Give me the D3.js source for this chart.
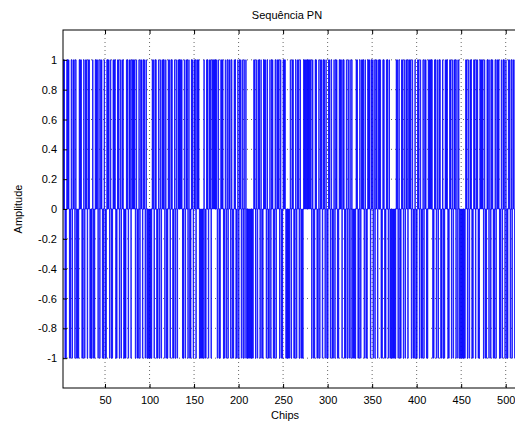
<!DOCTYPE html>
<html>
<head>
<meta charset="utf-8">
<script src="https://cdn.jsdelivr.net/npm/d3@7"></script>
<style>
  body { margin: 0; background: #fff; }
  svg { display: block; }
  text { font-family: "Liberation Sans", Arial, sans-serif; fill: #000; }
</style>
</head>
<body>
<svg id="chart" width="515" height="425"></svg>
<script>
// PN sequence chips (1 = +1, 0 = -1), 511 chips
const chipRows = [
  "10110011100101101000111001011011000100111010110010",
  "01110100111001101011000110110111101001011011010000",
  "00110110010101110100110110010101111100101101001101",
  "10111000001001101101111110100111001010110100110010",
  "11010101000000001101011010011101001011001011101001",
  "11000001011001011010001111111110100110010110110100",
  "11010010110011101100101010100001100101110100111011",
  "01011011100110011010000000110100110101101110100100",
  "11010010110011111001101011001001110011010110101000",
  "00001101011001101100111101001101011001011100101101",
  "00110101101"
];
const chipValues = chipRows.join("").split("").map(c => c === "1" ? 1 : -1);
const chipIndex = chipValues.map((_, i) => i + 1);

const xTicks = [50, 100, 150, 200, 250, 300, 350, 400, 450, 500];
const yTicks = [-1, -0.8, -0.6, -0.4, -0.2, 0, 0.2, 0.4, 0.6, 0.8, 1];
const yTickLabels = ["-1", "-0.8", "-0.6", "-0.4", "-0.2", "0", "0.2", "0.4", "0.6", "0.8", "1"];

const titleText = "Sequência PN";
const xLabelText = "Chips";
const yLabelText = "Amplitude";

(function () {
const svg = d3.select("#chart");
const pL = 63, pT = 30, pB = 388;
const x = d3.scaleLinear().domain([2.8, 511.6]).range([pL, pL + (511.6 - 2.8) * 0.8904]);
const y = d3.scaleLinear().domain([-1.2, 1.2]).range([pB, pT]);
const pR = x(511.6);

svg.append("clipPath").attr("id", "clip").append("rect")
  .attr("x", pL).attr("y", pT).attr("width", pR - pL).attr("height", pB - pT);

// grid
const grid = svg.append("g");
xTicks.forEach(t => grid.append("line")
  .attr("x1", x(t)).attr("x2", x(t)).attr("y1", pT).attr("y2", pB)
  .attr("stroke", "#000").attr("stroke-width", 0.6).attr("stroke-dasharray", "1,3"));
yTicks.forEach(t => grid.append("line")
  .attr("x1", pL).attr("x2", pR).attr("y1", y(t)).attr("y2", y(t))
  .attr("stroke", "#000").attr("stroke-width", 0.6).attr("stroke-dasharray", "1,3"));

// signal (return-to-zero pulses)
const pts = [];
chipValues.forEach((v, i) => {
  pts.push([chipIndex[i], v]);
  pts.push([chipIndex[i] + 0.5, 0]);
});
const line = d3.line().x(d => x(d[0])).y(d => y(d[1])).curve(d3.curveStepAfter);
svg.append("path").datum(pts)
  .attr("clip-path", "url(#clip)")
  .attr("d", line)
  .attr("fill", "none")
  .attr("stroke", "#0000ff")
  .attr("stroke-width", 0.8);

// axes (ticks inward)
const gx = svg.append("g").attr("transform", `translate(0,${pB})`)
  .call(d3.axisBottom(x).tickValues(xTicks).tickSizeInner(-4).tickSizeOuter(0).tickPadding(8));
const gxt = svg.append("g").attr("transform", `translate(0,${pT})`)
  .call(d3.axisTop(x).tickValues(xTicks).tickSizeInner(-4).tickSizeOuter(0).tickFormat(""));
const gy = svg.append("g").attr("transform", `translate(${pL},0)`)
  .call(d3.axisLeft(y).tickValues(yTicks).tickSizeInner(-4).tickSizeOuter(0).tickPadding(6)
    .tickFormat((d, i) => yTickLabels[i]));
[gx, gxt, gy].forEach(g => {
  g.select(".domain").remove();
  g.selectAll("line").attr("stroke", "#000");
  g.selectAll("text").style("font-family", "'Liberation Sans', Arial, sans-serif").style("font-size", "11px");
});

// frame
svg.append("rect").attr("x", pL).attr("y", pT).attr("width", pR - pL).attr("height", pB - pT)
  .attr("fill", "none").attr("stroke", "#000").attr("stroke-width", 1);

// labels
svg.append("text").attr("x", 287).attr("y", 19).attr("text-anchor", "middle")
  .style("font-size", "11px").text(titleText);
svg.append("text").attr("x", 285).attr("y", 419).attr("text-anchor", "middle")
  .style("font-size", "11px").text(xLabelText);
svg.append("text").attr("transform", `translate(22,${y(0)}) rotate(-90)`).attr("text-anchor", "middle")
  .style("font-size", "11px").text(yLabelText);
})();
</script>
</body>
</html>
